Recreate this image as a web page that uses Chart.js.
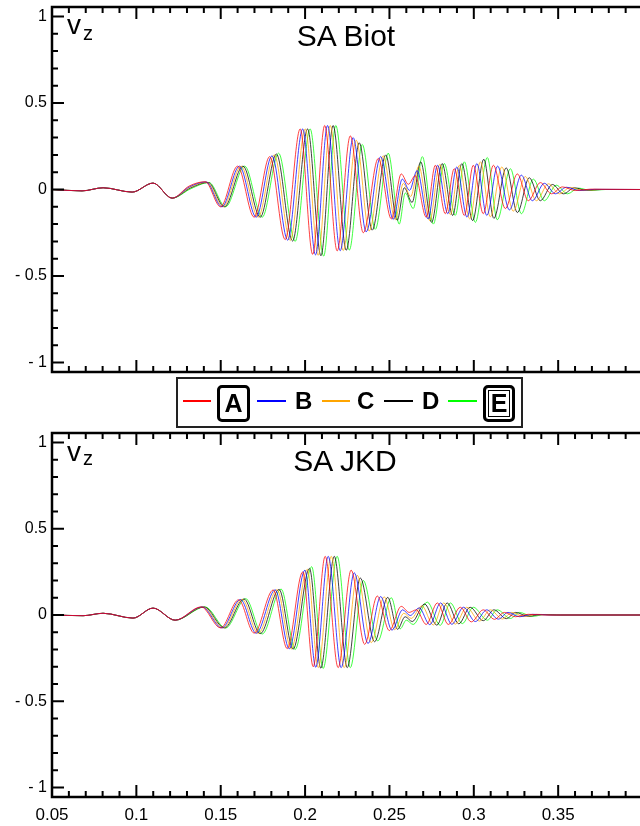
<!DOCTYPE html>
<html>
<head>
<meta charset="utf-8">
<script src="https://cdn.jsdelivr.net/npm/chart.js@4.4.1/dist/chart.umd.min.js"></script>
<style>
  html, body { margin: 0; padding: 0; background: #fff; overflow: hidden; }
  body { width: 640px; height: 826px; position: relative; font-family: Arial, "Liberation Sans", sans-serif; color: #000; }
  .box { position: absolute; left: 0; width: 640px; }
  #topBox { top: 0; height: 380px; }
  #botBox { top: 420px; height: 406px; }
  .lbl { position: absolute; line-height: 1; white-space: nowrap; }
  .title { font-size: 30px; width: 200px; text-align: center; }
  .v { font-size: 28px; }
  .z { font-size: 20px; }
  #legend { position: absolute; left: 176px; top: 377px; width: 347px; height: 51px; border: 2px solid #222; box-sizing: border-box; }
  .seg { position: absolute; top: 400px; height: 1.5px; }
  .lg { position: absolute; top: 389px; font-size: 24px; font-weight: bold; line-height: 1; }
  .boxed { position: absolute; top: 385px; height: 37px; border: 3px solid #000; border-radius: 5px; box-sizing: border-box;
           display: flex; align-items: center; justify-content: center; font-size: 25px; font-weight: bold; line-height: 1; }
</style>
</head>
<body>
<div id="topBox" class="box"><canvas id="biotChart"></canvas></div>
<div id="botBox" class="box"><canvas id="jkdChart"></canvas></div>

<div class="lbl title" style="left:246px; top:21px;">SA Biot</div>
<div class="lbl v" style="left:67px; top:11px;">v</div>
<div class="lbl z" style="left:83px; top:23px;">z</div>

<div class="lbl title" style="left:245px; top:446px;">SA JKD</div>
<div class="lbl v" style="left:67px; top:438px;">v</div>
<div class="lbl z" style="left:83px; top:448px;">z</div>

<div id="legend"></div>
<div class="seg" style="left:183px; width:28px; background:#ff0000;"></div>
<div class="boxed" style="left:217px; width:33px;">A</div>
<div class="seg" style="left:257px; width:29px; background:#0000ff;"></div>
<div class="lg" style="left:295px;">B</div>
<div class="seg" style="left:322px; width:28px; background:#ffa500;"></div>
<div class="lg" style="left:357px;">C</div>
<div class="seg" style="left:384px; width:29px; background:#000;"></div>
<div class="lg" style="left:422px;">D</div>
<div class="seg" style="left:448px; width:29px; background:#00ff00;"></div>
<div class="boxed" style="left:483px; width:32px; box-shadow: inset 0 0 0 2px #fff, inset 0 0 0 3px #000;">E</div>

<script>
// tick values
const yTicks = [-1, -0.9, -0.8, -0.7, -0.6, -0.5, -0.4, -0.3, -0.2, -0.1, 0,
                0.1, 0.2, 0.3, 0.4, 0.5, 0.6, 0.7, 0.8, 0.9, 1];
const xTicks = [0.05, 0.06, 0.07, 0.08, 0.09, 0.1, 0.11, 0.12, 0.13, 0.14, 0.15, 0.16, 0.17, 0.18,
                0.19, 0.2, 0.21, 0.22, 0.23, 0.24, 0.25, 0.26, 0.27, 0.28, 0.29, 0.3, 0.31, 0.32,
                0.33, 0.34, 0.35, 0.36, 0.37, 0.38, 0.39];

const seriesNames = ['A', 'B', 'C', 'D', 'E'];
const seriesColors = ['#ff0000', '#0000ff', '#ffa500', '#000000', '#00ff00'];

// SA Biot: common start, then one trace per receiver [t, vz]
const biotLead = [[0.05, 0], [0.0678, -0.008], [0.0803, 0.01], [0.0975, -0.015], [0.1099, 0.037], [0.1212, -0.05]];
const biotA = [[0.1313,0.02],[0.1408,0.045],[0.1499,-0.10],[0.1600,0.135],[0.1698,-0.16],[0.1790,0.19],[0.1882,-0.29],
  [0.1971,0.35],[0.2045,-0.375],[0.2116,0.37],[0.2190,-0.355],[0.2268,0.31],[0.2345,-0.25],[0.2434,0.18],[0.2511,-0.17],
  [0.2570,0.09],[0.2612,0.03],[0.2653,0.08],[0.2718,-0.16],[0.2772,0.14],[0.2831,-0.14],[0.2884,0.12],[0.2944,-0.15],
  [0.2997,0.14],[0.3056,-0.14],[0.3116,0.14],[0.3187,-0.11],[0.3258,0.09],[0.3323,-0.065],[0.3394,0.04],[0.3460,-0.025],
  [0.3525,0.015],[0.3602,-0.006],[0.3691,0.002],[0.4,0]];
const biotB = [[0.1316,0.016],[0.1413,0.044],[0.1507,-0.10],[0.1611,0.135],[0.1710,-0.16],[0.1804,0.195],[0.1897,-0.293],
  [0.1986,0.35],[0.2062,-0.378],[0.2133,0.37],[0.2208,-0.354],[0.2285,0.30],[0.2362,-0.245],[0.2448,0.19],[0.2522,-0.173],
  [0.2576,0.06],[0.2619,-0.005],[0.2664,0.11],[0.2729,-0.17],[0.2785,0.14],[0.2846,-0.14],[0.2899,0.13],[0.2960,-0.16],
  [0.3018,0.15],[0.3077,-0.15],[0.3141,0.135],[0.3211,-0.118],[0.3282,0.083],[0.3347,-0.065],[0.3418,0.036],[0.3483,-0.025],
  [0.3549,0.013],[0.3626,-0.006],[0.3715,0.001],[0.4,0]];
const biotC = [[0.1318,0.012],[0.1419,0.042],[0.1514,-0.10],[0.1621,0.135],[0.1722,-0.16],[0.1817,0.2],[0.1912,-0.295],
  [0.2001,0.35],[0.2078,-0.38],[0.2149,0.37],[0.2226,-0.353],[0.2303,0.285],[0.2380,-0.24],[0.2463,0.195],[0.2534,-0.175],
  [0.2582,0.035],[0.2626,-0.04],[0.2674,0.135],[0.2739,-0.18],[0.2798,0.145],[0.2861,-0.145],[0.2914,0.14],[0.2976,-0.17],
  [0.3039,0.16],[0.3098,-0.158],[0.3166,0.13],[0.3234,-0.125],[0.3305,0.075],[0.3371,-0.065],[0.3442,0.033],[0.3507,-0.025],
  [0.3572,0.012],[0.3649,-0.006],[0.3738,0],[0.4,0]];
const biotD = [[0.1321,0.009],[0.1425,0.041],[0.1522,-0.10],[0.1632,0.135],[0.1734,-0.16],[0.1830,0.205],[0.1926,-0.298],
  [0.2015,0.35],[0.2094,-0.383],[0.2166,0.37],[0.2244,-0.351],[0.2321,0.27],[0.2398,-0.235],[0.2478,0.2],[0.2546,-0.178],
  [0.2588,0.01],[0.2634,-0.075],[0.2685,0.16],[0.2750,-0.19],[0.2812,0.15],[0.2875,-0.15],[0.2929,0.15],[0.2993,-0.18],
  [0.3059,0.175],[0.3119,-0.167],[0.3192,0.125],[0.3258,-0.133],[0.3329,0.068],[0.3394,-0.065],[0.3466,0.029],[0.3531,-0.025],
  [0.3596,0.01],[0.3667,-0.005],[0.3756,0],[0.4,0]];
const biotE = [[0.1324,0.005],[0.1431,0.04],[0.1529,-0.10],[0.1642,0.135],[0.1746,-0.16],[0.1843,0.21],[0.1941,-0.30],
  [0.2030,0.35],[0.2110,-0.385],[0.2182,0.37],[0.2262,-0.35],[0.2339,0.26],[0.2416,-0.23],[0.2493,0.21],[0.2558,-0.2],
  [0.2594,-0.02],[0.2641,-0.11],[0.2695,0.19],[0.2760,-0.20],[0.2825,0.15],[0.2890,-0.15],[0.2944,0.16],[0.3009,-0.19],
  [0.3080,0.185],[0.3139,-0.175],[0.3217,0.12],[0.3282,-0.14],[0.3353,0.06],[0.3418,-0.065],[0.3489,0.025],[0.3555,-0.025],
  [0.3620,0.008],[0.3691,-0.005],[0.3780,0],[0.4,0]];

// SA JKD
const jkdLead = [[0.05, 0], [0.0684, -0.004], [0.0803, 0.01], [0.0980, -0.018], [0.1099, 0.04], [0.1230, -0.03]];
const jkdA = [[0.1384,0.047],[0.1499,-0.075],[0.1606,0.088],[0.1698,-0.105],[0.1811,0.145],[0.1894,-0.195],[0.1986,0.25],
  [0.2048,-0.30],[0.2119,0.34],[0.2196,-0.305],[0.2273,0.26],[0.2353,-0.17],[0.2428,0.11],[0.2499,-0.09],[0.2570,0.05],
  [0.2617,0.015],[0.2659,0.03],[0.2718,-0.055],[0.2784,0.07],[0.2849,-0.055],[0.2920,0.045],[0.2985,-0.04],[0.3056,0.03],
  [0.3122,-0.025],[0.3181,0.015],[0.3246,-0.01],[0.3323,0.004],[0.3424,0],[0.4,0]];
const jkdB = [[0.1390,0.047],[0.1507,-0.075],[0.1617,0.09],[0.1710,-0.106],[0.1823,0.146],[0.1906,-0.196],[0.1999,0.26],
  [0.2063,-0.303],[0.2137,0.34],[0.2214,-0.305],[0.2291,0.245],[0.2373,-0.165],[0.2448,0.107],[0.2515,-0.088],[0.2578,0.03],
  [0.2623,-0.003],[0.2676,0.041],[0.2739,-0.056],[0.2803,0.07],[0.2870,-0.054],[0.2939,0.045],[0.3009,-0.038],[0.3077,0.03],
  [0.3145,-0.024],[0.3203,0.015],[0.3272,-0.01],[0.3349,0.004],[0.3447,0],[0.4,0]];
const jkdC = [[0.1396,0.047],[0.1514,-0.075],[0.1627,0.091],[0.1722,-0.107],[0.1834,0.147],[0.1918,-0.197],[0.2013,0.265],
  [0.2078,-0.305],[0.2155,0.34],[0.2232,-0.305],[0.2309,0.23],[0.2392,-0.16],[0.2469,0.105],[0.2531,-0.085],[0.2585,0.01],
  [0.2629,-0.02],[0.2692,0.053],[0.2760,-0.058],[0.2822,0.07],[0.2890,-0.053],[0.2958,0.045],[0.3033,-0.035],[0.3098,0.03],
  [0.3169,-0.023],[0.3225,0.015],[0.3297,-0.009],[0.3374,0.004],[0.3469,0],[0.4,0]];
const jkdD = [[0.1402,0.047],[0.1522,-0.075],[0.1638,0.093],[0.1734,-0.108],[0.1846,0.148],[0.1929,-0.198],[0.2026,0.27],
  [0.2093,-0.308],[0.2173,0.34],[0.2250,-0.305],[0.2327,0.215],[0.2412,-0.155],[0.2490,0.102],[0.2548,-0.083],[0.2593,-0.01],
  [0.2635,-0.038],[0.2708,0.064],[0.2781,-0.059],[0.2842,0.07],[0.2911,-0.051],[0.2978,0.045],[0.3056,-0.033],[0.3119,0.03],
  [0.3193,-0.021],[0.3248,0.015],[0.3322,-0.008],[0.3399,0.003],[0.3491,0],[0.4,0]];
const jkdE = [[0.1408,0.047],[0.1529,-0.075],[0.1648,0.095],[0.1746,-0.11],[0.1858,0.15],[0.1941,-0.2],[0.2039,0.28],
  [0.2107,-0.31],[0.2190,0.34],[0.2268,-0.305],[0.2345,0.2],[0.2431,-0.15],[0.2511,0.10],[0.2564,-0.08],[0.2600,-0.03],
  [0.2641,-0.055],[0.2724,0.075],[0.2801,-0.06],[0.2861,0.07],[0.2932,-0.05],[0.2997,0.045],[0.3080,-0.03],[0.3139,0.03],
  [0.3217,-0.02],[0.3270,0.015],[0.3347,-0.008],[0.3424,0.003],[0.3513,0],[0.4,0]];

const FONT = 'Arial, "Liberation Sans", sans-serif';

function isMajor(v, step) {
  return Math.abs(v / step - Math.round(v / step)) < 1e-6;
}

// inward tick marks and frame lines, placed with the chart's own scales
const frameTicks = {
  id: 'frameTicks',
  afterDraw(chart) {
    const { ctx, chartArea: a, scales: { x, y } } = chart;
    ctx.save();
    ctx.strokeStyle = '#000';
    ctx.lineWidth = 2;
    ctx.beginPath();
    yTicks.forEach(v => {
      const py = y.getPixelForValue(v);
      const len = isMajor(v, 0.5) ? 12 : 6;
      ctx.moveTo(a.left, py);
      ctx.lineTo(a.left + len, py);
    });
    xTicks.forEach(v => {
      const px = x.getPixelForValue(v);
      const len = isMajor(v, 0.05) ? 12 : 6;
      ctx.moveTo(px, a.bottom);
      ctx.lineTo(px, a.bottom - len);
      ctx.moveTo(px, a.top);
      ctx.lineTo(px, a.top + len);
    });
    ctx.stroke();
    ctx.lineWidth = 2.5;
    ctx.beginPath();
    ctx.moveTo(a.right + 2, a.top);
    ctx.lineTo(a.left, a.top);
    ctx.lineTo(a.left, a.bottom);
    ctx.lineTo(a.right + 2, a.bottom);
    ctx.stroke();
    ctx.restore();
  }
};

function yLabel(v) {
  if (!isMajor(v, 0.5)) return '';
  const r = Math.round(v * 10) / 10;
  if (r < 0) return '- ' + String(-r);
  return String(r);
}

function xLabel(v) {
  if (!isMajor(v, 0.05)) return '';
  return String(Math.round(v * 100) / 100);
}

function makeChart(canvasId, lead, traces, showX, padTop, xHeight) {
  const datasets = traces.map((tr, i) => ({
    label: seriesNames[i],
    data: lead.concat(tr).map(p => ({ x: p[0], y: p[1] })),
    borderColor: seriesColors[i],
    borderWidth: 0.75,
    pointRadius: 0,
    fill: false,
    cubicInterpolationMode: 'monotone'
  }));

  return new Chart(document.getElementById(canvasId), {
    type: 'line',
    data: { datasets },
    options: {
      responsive: true,
      maintainAspectRatio: false,
      animation: false,
      events: [],
      layout: { padding: { top: padTop, left: 0, right: 0, bottom: 0 } },
      plugins: { legend: { display: false }, tooltip: { enabled: false } },
      scales: {
        x: {
          type: 'linear',
          min: 0.05,
          max: 0.3985,
          grid: { display: false, drawTicks: false },
          border: { display: false },
          afterBuildTicks: s => { s.ticks = xTicks.map(v => ({ value: v })); },
          afterFit: s => { s.height = xHeight; s.paddingLeft = 0; s.paddingRight = 0; },
          ticks: {
            display: showX,
            autoSkip: false,
            maxRotation: 0,
            padding: 8,
            color: '#000',
            font: { family: FONT, size: 17 },
            callback: v => xLabel(v)
          }
        },
        y: {
          type: 'linear',
          min: -1.055,
          max: 1.055,
          grid: { display: false, drawTicks: false },
          border: { display: false },
          afterBuildTicks: s => { s.ticks = yTicks.map(v => ({ value: v })); },
          afterFit: s => { s.width = 52; s.paddingTop = 0; s.paddingBottom = 0; },
          ticks: {
            autoSkip: false,
            padding: 5,
            color: '#000',
            font: { family: FONT, size: 16 },
            callback: v => yLabel(v)
          }
        }
      }
    },
    plugins: [frameTicks]
  });
}

makeChart('biotChart', biotLead, [biotA, biotB, biotC, biotD, biotE], false, 7, 8);
makeChart('jkdChart', jkdLead, [jkdA, jkdB, jkdC, jkdD, jkdE], true, 13, 29);
</script>
</body>
</html>
